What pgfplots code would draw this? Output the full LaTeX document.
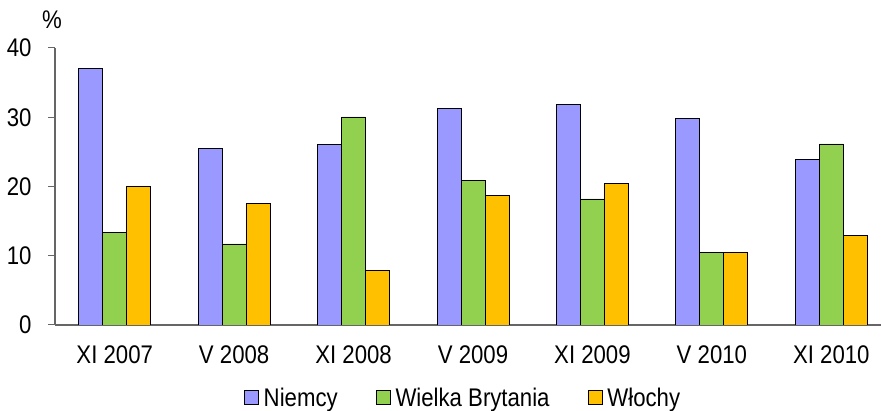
\documentclass[border=0pt]{standalone}
\usepackage{fontspec}
\setmainfont[FakeStretch=0.87]{Liberation Sans}
\usepackage{pgfplots}
\pgfplotsset{compat=1.18}

\definecolor{niemcy}{HTML}{9999FF}
\definecolor{wb}{HTML}{92D050}
\definecolor{wlochy}{HTML}{FFC000}

\begin{document}
\begin{tikzpicture}[x=1pt,y=1pt]
\path[use as bounding box] (-55,-86) rectangle (826,325);
\begin{axis}[
    at={(0,0)}, anchor=south west,
    scale only axis,
    width=826pt, height=277pt,
    ybar=0pt, bar width=24pt,
    xmin=-0.5, xmax=6.416,
    ymin=0, ymax=40,
    ytick={0,10,20,30,40},
    xtick={0,...,6},
    xticklabels={XI 2007, V 2008, XI 2008, V 2009, XI 2009, V 2010, XI 2010},
    extra x ticks={-0.5,0.5,1.5,2.5,3.5,4.5,5.5},
    extra x tick labels={},
    extra x tick style={major tick length=7pt, tick style={gray!80!black, line width=1pt}},
    x tick style={draw=none},
    y tick style={gray!80!black, line width=1pt},
    major tick length=7pt,
    tick align=outside,
    axis x line*=bottom,
    axis y line*=left,
    axis line style={-, gray!80!black, line width=1.2pt},
    /pgf/number format/assume math mode=true,
    tick label style={font=\fontsize{25.5}{30}\selectfont, text=black},
    yticklabel style={xshift=-13pt},
    xticklabel style={yshift=-10pt},
    legend columns=3,
    legend style={draw=none, fill=none, at={(0.494,-0.262)}, anchor=center,
        font=\fontsize{25.5}{30}\selectfont,
        /tikz/every odd column/.append style={column sep=3pt},
        /tikz/every even column/.append style={column sep=36pt}},
    legend image code/.code={\draw[#1, draw=black, line width=0.8pt] (0pt,-7pt) rectangle (14pt,7pt);},
    every axis plot/.append style={draw=black, line width=0.9pt},
]
\addplot[fill=niemcy] coordinates {(0,37.07)(1,25.5)(2,26.04)(3,31.24)(4,31.82)(5,29.8)(6,23.87)};
\addplot[fill=wb] coordinates {(0,13.3)(1,11.7)(2,30.04)(3,20.84)(4,18.2)(5,10.54)(6,26.14)};
\addplot[fill=wlochy] coordinates {(0,19.97)(1,17.57)(2,7.94)(3,18.67)(4,20.4)(5,10.54)(6,12.95)};
\legend{Niemcy, Wielka Brytania, Włochy}
\end{axis}
\node[font=\fontsize{25.5}{30}\selectfont, anchor=center] at (-3,305) {\%};
\end{tikzpicture}
\end{document}
